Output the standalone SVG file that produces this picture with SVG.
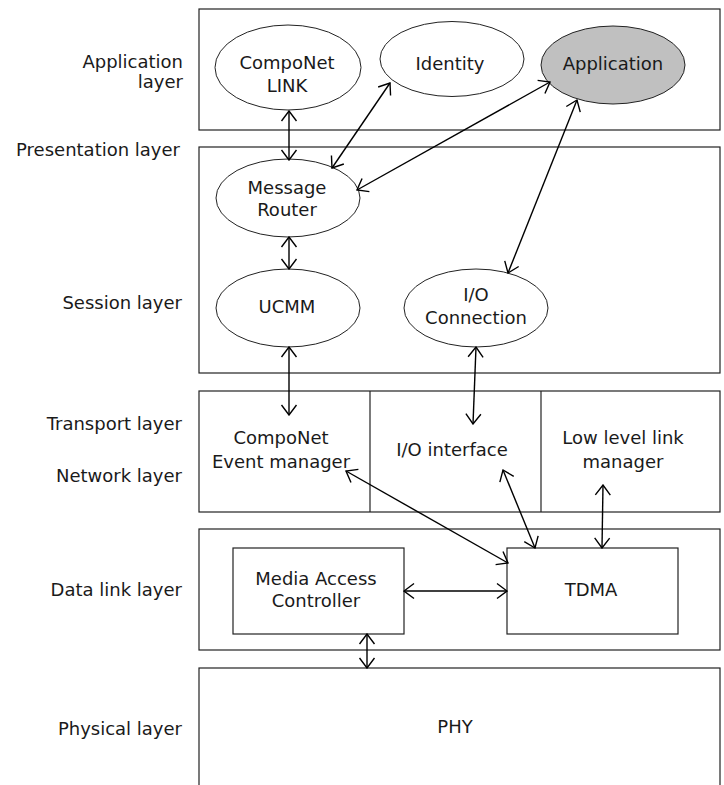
<svg xmlns="http://www.w3.org/2000/svg" width="724" height="785" viewBox="0 0 724 785">
<style>
text{font-family:"DejaVu Sans","Verdana",sans-serif;font-size:18px;fill:#1a1a1a}
.lbl{text-anchor:end}
.c{text-anchor:middle}
.box{fill:#fff;stroke:#222;stroke-width:1.2}
.ell{fill:#fff;stroke:#222;stroke-width:1}
.con{stroke:#000;stroke-width:1.4;fill:none;marker-start:url(#ah);marker-end:url(#ah)}
</style>
<defs>
<marker id="ah" viewBox="-11 -9 12 18" refX="0" refY="0" markerWidth="12" markerHeight="18" markerUnits="userSpaceOnUse" orient="auto-start-reverse">
<path d="M-10,-7.5 L0,0 L-10,7.5" fill="none" stroke="#000" stroke-width="1.4"/>
</marker>
</defs>
<rect width="724" height="785" fill="#fff"/>
<g id="layer-labels">
<text class="lbl" x="183" y="68">Application</text>
<text class="lbl" x="183" y="88">layer</text>
<text class="lbl" x="180" y="156">Presentation layer</text>
<text class="lbl" x="182" y="309">Session layer</text>
<text class="lbl" x="182" y="430">Transport layer</text>
<text class="lbl" x="182" y="482">Network layer</text>
<text class="lbl" x="182" y="596">Data link layer</text>
<text class="lbl" x="182" y="735">Physical layer</text>
</g>
<g id="app-layer"><rect class="box" x="199" y="9" width="521" height="121"/></g>
<g id="session-layer"><rect class="box" x="199" y="147" width="521" height="226"/></g>
<g id="transport-layer"><rect class="box" x="199" y="391" width="521" height="121"/>
<line x1="370" y1="391" x2="370" y2="512" stroke="#222" stroke-width="1.2"/>
<line x1="541" y1="391" x2="541" y2="512" stroke="#222" stroke-width="1.2"/></g>
<g id="datalink-layer"><rect class="box" x="199" y="529" width="521" height="121"/></g>
<g id="phy"><rect class="box" x="199" y="668" width="521" height="130"/>
<text class="c" x="455" y="733">PHY</text></g>
<g id="componet-link"><ellipse class="ell" cx="288" cy="67.5" rx="73" ry="42.5"/>
<text class="c" x="287" y="69">CompoNet</text><text class="c" x="287" y="92">LINK</text></g>
<g id="identity"><ellipse class="ell" cx="452" cy="59" rx="72" ry="37.5"/>
<text class="c" x="450" y="70">Identity</text></g>
<g id="application"><ellipse cx="613" cy="65" rx="72" ry="39" fill="#c0c0c0" stroke="#222" stroke-width="1"/>
<text class="c" x="613" y="70">Application</text></g>
<g id="message-router"><ellipse class="ell" cx="288" cy="198" rx="72" ry="39"/>
<text class="c" x="287" y="194">Message</text><text class="c" x="287" y="216">Router</text></g>
<g id="ucmm"><ellipse class="ell" cx="288" cy="308" rx="72" ry="39"/>
<text class="c" x="287" y="313">UCMM</text></g>
<g id="io-connection"><ellipse class="ell" cx="476" cy="308" rx="72" ry="39"/>
<text class="c" x="476" y="301">I/O</text><text class="c" x="476" y="324">Connection</text></g>
<g id="event-manager"><text class="c" x="281" y="444">CompoNet</text><text class="c" x="281" y="468">Event manager</text></g>
<g id="io-interface"><text class="c" x="452" y="456">I/O interface</text></g>
<g id="low-level-link"><text class="c" x="623" y="444">Low level link</text><text class="c" x="623" y="468">manager</text></g>
<g id="mac"><rect class="box" x="233" y="548" width="171" height="86"/>
<text class="c" x="316" y="585">Media Access</text><text class="c" x="316" y="607">Controller</text></g>
<g id="tdma"><rect class="box" x="507" y="548" width="171" height="86"/>
<text class="c" x="591" y="596">TDMA</text></g>
<g id="connectors">
<line class="con" x1="289" y1="111" x2="289" y2="160"/>
<line class="con" x1="390" y1="83" x2="332" y2="168"/>
<line class="con" x1="550" y1="82" x2="357" y2="190"/>
<line class="con" x1="577" y1="100" x2="508" y2="273"/>
<line class="con" x1="289" y1="237" x2="289" y2="269"/>
<line class="con" x1="289" y1="347" x2="289" y2="415"/>
<line class="con" x1="476" y1="347" x2="473" y2="424"/>
<line class="con" x1="346" y1="471" x2="508" y2="563"/>
<line class="con" x1="503" y1="470" x2="535" y2="548"/>
<line class="con" x1="603" y1="485" x2="602" y2="548"/>
<line class="con" x1="404" y1="591" x2="507" y2="591"/>
<line class="con" x1="367" y1="634" x2="367" y2="668"/>
</g>
</svg>
